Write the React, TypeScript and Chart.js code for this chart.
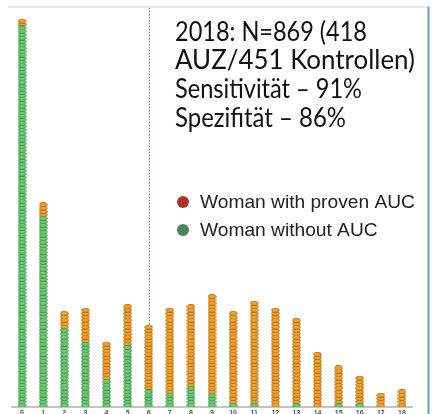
import React, { useEffect, useRef } from 'react';
import { Chart, registerables } from 'chart.js';

Chart.register(...registerables);

// score categories on the x axis
const categories = [0, 1, 2, 3, 4, 5, 6, 7, 8, 9, 10, 11, 12, 13, 14, 15, 16, 17, 18];
// dots per category
const withoutAUC = [112, 56, 23, 19, 8, 18, 5, 4, 6, 4, 1, 1, 0, 1, 0, 1, 1, 0, 0];
const provenAUC = [2, 4, 5, 10, 11, 12, 19, 25, 24, 29, 27, 30, 29, 25, 16, 11, 8, 4, 5];
const cutoffCategory = 6;

const annotationLines = [
  '2018: N=869 (418',
  'AUZ/451 Kontrollen)',
  'Sensitivität – 91%',
  'Spezifität – 86%',
];
const annotationWidths = [192, 240, 187, 171];
const legendLabels = ['Woman with proven AUC', 'Woman without AUC'];
const legendColors = ['#a8362f', '#45875a'];

function makeDot(fill: string, stroke: string): HTMLCanvasElement {
  const c = document.createElement('canvas');
  c.width = 9;
  c.height = 5;
  const g = c.getContext('2d')!;
  g.beginPath();
  g.ellipse(4.5, 2.5, 3.8, 2.1, 0, 0, Math.PI * 2);
  g.fillStyle = fill;
  g.fill();
  g.lineWidth = 1;
  g.strokeStyle = stroke;
  g.stroke();
  return c;
}

export default function App() {
  const ref = useRef<HTMLCanvasElement | null>(null);

  useEffect(() => {
    const canvas = ref.current!;
    const greenPts = categories.flatMap((c, i) =>
      Array.from({ length: withoutAUC[i] }, (_, k) => ({ x: c, y: k + 0.5 }))
    );
    const orangePts = categories.flatMap((c, i) =>
      Array.from({ length: provenAUC[i] }, (_, k) => ({ x: c, y: withoutAUC[i] + k + 0.5 }))
    );
    const greenDot = makeDot('#74c977', '#3e9547');
    const orangeDot = makeDot('#f3a42c', '#b46e16');

    const decor = {
      id: 'decor',
      beforeDraw(chart: any) {
        const ctx = chart.ctx;
        ctx.save();
        ctx.fillStyle = '#ffffff';
        ctx.fillRect(0, 0, chart.width, chart.height);
        ctx.restore();
      },
      beforeDatasetsDraw(chart: any) {
        const ctx = chart.ctx;
        const xs = chart.scales.x;
        const ys = chart.scales.y;
        const i = categories.indexOf(cutoffCategory);
        const px = Math.round(xs.getPixelForValue(cutoffCategory)) + 0.5;
        const bottom = ys.getPixelForValue(withoutAUC[i] + provenAUC[i]);
        ctx.save();
        ctx.strokeStyle = '#d85a5a';
        ctx.lineWidth = 1;
        ctx.setLineDash([1.5, 1.5]);
        ctx.beginPath();
        ctx.moveTo(px, 8);
        ctx.lineTo(px, bottom);
        ctx.stroke();
        ctx.restore();
      },
      afterDraw(chart: any) {
        const ctx = chart.ctx;
        ctx.save();
        // frame lines
        ctx.strokeStyle = '#d9e1e8';
        ctx.lineWidth = 1.5;
        ctx.beginPath();
        ctx.moveTo(8, 7);
        ctx.lineTo(429, 7);
        ctx.stroke();
        ctx.strokeStyle = '#5b9bd5';
        ctx.lineWidth = 2;
        ctx.beginPath();
        ctx.moveTo(428.5, 6.5);
        ctx.lineTo(428.5, 414);
        ctx.stroke();

        // annotation text
        ctx.font = '26px Lato, "Open Sans", sans-serif';
        ctx.fillStyle = '#111111';
        ctx.textBaseline = 'alphabetic';
        ctx.textAlign = 'left';
        annotationLines.forEach((t, k) => {
          ctx.fillText(t, 175, 40.5 + k * 28.7, annotationWidths[k]);
        });

        // legend
        ctx.font = '100px "Liberation Sans", Arial, sans-serif';
        const lw = ctx.measureText(legendLabels[0]).width;
        const lsize = (100 * 215) / lw;
        ctx.font = `${lsize}px "Liberation Sans", Arial, sans-serif`;
        ctx.textBaseline = 'middle';
        legendLabels.forEach((t, k) => {
          const cy = 202 + k * 28;
          ctx.beginPath();
          ctx.arc(183, cy, 6, 0, Math.PI * 2);
          ctx.fillStyle = legendColors[k];
          ctx.fill();
          ctx.fillStyle = '#222222';
          ctx.fillText(t, 200, cy + 1);
        });
        ctx.restore();
      },
    };

    const chart = new Chart(canvas, {
      type: 'scatter',
      data: {
        datasets: [
          {
            label: legendLabels[1],
            data: greenPts,
            pointStyle: greenDot as any,
            pointRadius: 4,
            backgroundColor: '#74c977',
          },
          {
            label: legendLabels[0],
            data: orangePts,
            pointStyle: orangeDot as any,
            pointRadius: 4,
            backgroundColor: '#f3a42c',
          },
        ],
      },
      options: {
        responsive: false,
        animation: false,
        events: [],
        layout: { padding: { top: 7, left: 11.5, right: 23.5, bottom: 0 } },
        plugins: { legend: { display: false }, tooltip: { enabled: false } },
        scales: {
          x: {
            type: 'linear',
            min: -0.5,
            max: 18.5,
            afterBuildTicks: (s: any) => {
              s.ticks = categories.map((v) => ({ value: v }));
            },
            afterFit: (s: any) => {
              s.height = 7;
            },
            grid: { display: false, drawTicks: false },
            border: { display: true, color: '#c4c4c4', width: 2 },
            ticks: {
              autoSkip: false,
              maxRotation: 0,
              padding: 2,
              color: '#505050',
              font: { size: 7, weight: 'bold', family: 'Liberation Sans, Arial, sans-serif' },
              callback: (v: any) => String(v),
            },
          },
          y: {
            display: false,
            min: 0,
            max: 400 / 3.4,
          },
        },
      },
      plugins: [decor],
    });
    return () => chart.destroy();
  }, []);

  return (
    <div style={{ position: 'fixed', left: 0, top: 0, width: 436, height: 414, background: '#fff' }}>
      <canvas ref={ref} width={436} height={414} style={{ display: 'block', width: 436, height: 414 }} />
    </div>
  );
}
